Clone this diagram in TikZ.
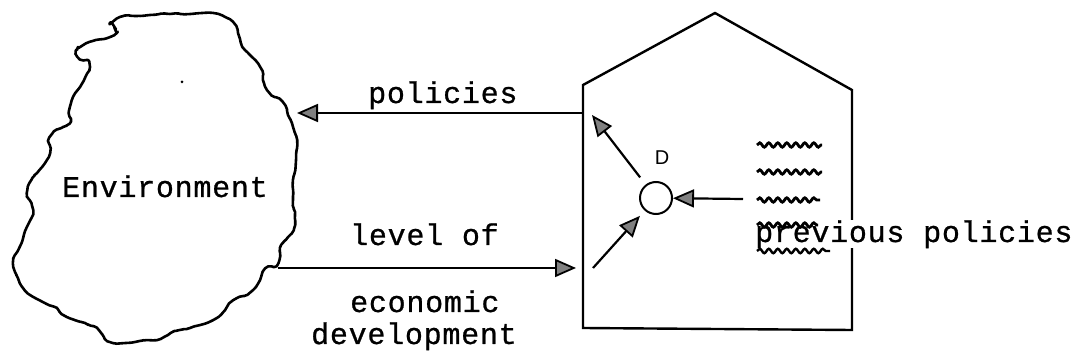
\documentclass[tikz,border=0pt]{standalone}
\usepackage{fontspec}
\newfontfamily\tw{Liberation Mono}[LetterSpace=2.5,FakeBold=0.8]
\newfontfamily\sfD{Liberation Sans}
\usetikzlibrary{arrows.meta,decorations.pathmorphing}
\begin{document}
\begin{tikzpicture}[x=1pt,y=-1pt,
  lbl/.style={font=\tw\fontsize{30}{36}\selectfont, inner sep=0pt, anchor=base west},
  arr/.style={line width=2.2pt, -{Triangle[length=21pt,width=18pt,fill=black!50,line width=1.8pt]}},
  wavy/.style={line width=2.8pt, decorate, decoration={snake, segment length=9pt, amplitude=2.2pt}},
  blob/.style={line width=2.6pt, line join=round},
  frame/.style={line width=2.4pt, line join=miter}]
\useasboundingbox (0,0) rectangle (1082,363);
% Environment blob
\pgfmathsetseed{7}
\draw[blob, decorate, decoration={random steps, segment length=5pt, amplitude=1.1pt}, rounded corners=2pt]
  plot[smooth cycle, tension=0.55] coordinates {
  (110,23) (120,17) (135,16) (150,15) (170,14) (190,14) (213,13) (225,17) (233,22)
  (238,33) (240,43) (250,55) (260,67) (263,80) (267,90) (276,96) (283,102) (288,115)
  (293,127) (297,140) (296,160) (293,180) (293,200) (295,212) (295,225) (288,237)
  (283,241) (281,252) (279,263) (272,265) (265,268) (260,280) (253,290) (243,295)
  (233,300) (225,310) (213,320) (200,325) (180,330) (168,335) (157,340) (140,341)
  (125,343) (113,343) (105,337) (100,330) (85,323) (67,317) (60,310) (53,307)
  (43,302) (33,297) (25,290) (20,283) (15,272) (13,263) (16,255) (20,247) (23,237)
  (27,227) (32,218) (33,210) (28,200) (27,193) (30,183) (37,173) (45,163) (50,153)
  (48,145) (50,137) (58,130) (67,127) (68,117) (70,107) (73,97) (80,87) (85,77)
  (90,67) (83,62) (77,57) (77,50) (80,47) (90,42) (100,40) (110,37) (117,33) (115,28)};
\fill (182,82) circle (1.5pt);
\node[lbl] (env) at (62,197) {Environment};
\coordinate (envR1) at (297,113);
\coordinate (envR2) at (278,268);
% Decision box
\draw[frame] (583,85) -- (715,13) -- (852,90) -- (852,330) -- (583,328) -- cycle;
\coordinate (boxL1) at (583,113);
\coordinate (boxL2) at (583,268);
% labels on connectors
\node[lbl] (pol) at (368,103) {policies};
\node[lbl] (lev) at (350,245) {level of};
\node[lbl] (eco) at (350,312) {economic};
\node[lbl] (dev) at (311,344) {development};
% connectors
\draw[arr] (boxL1) -- (envR1);
\draw[arr, shorten >=7pt] (envR2) -- (boxL2);
% decision node
\node[circle, draw, line width=2pt, minimum size=32pt, inner sep=0pt] (D) at (656,198) {};
\node[font=\sfD\fontsize{20}{24}\selectfont, inner sep=0pt] (Dl) at (662,158) {D};
\coordinate (tipUL) at (592,115);
\coordinate (tailLL) at (593,268);
\coordinate (prevT) at (743,199);
\draw[arr, shorten <=9pt] (D) -- (tipUL);
\draw[arr, shorten >=7pt] (tailLL) -- (D);
\draw[arr] (prevT) -- (D);
% previous policies
\node[lbl, fill=white, inner ysep=0pt] (prev) at (755,242) {previous policies};
\draw[wavy] (757,145) -- (822,145);
\draw[wavy] (757,172) -- (822,172);
\draw[wavy] (757,200) -- (820,200);
\draw[wavy] (757,225) -- (818,225);
\draw[wavy, line width=2.4pt] (757,251) -- (830,251);
\end{tikzpicture}
\end{document}
